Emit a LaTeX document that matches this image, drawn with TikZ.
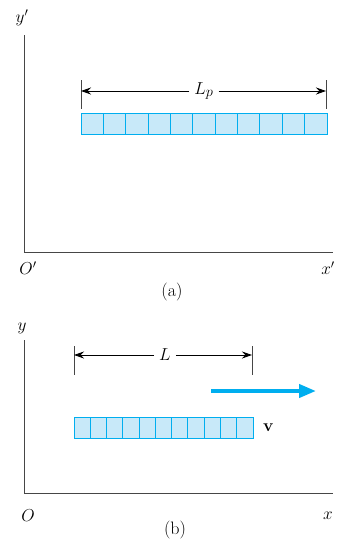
\documentclass[tikz,border=0pt]{standalone}
\usepackage{amsmath, amssymb}
\usetikzlibrary{arrows.meta, positioning, calc}
\definecolor{rodblue}{RGB}{0, 174, 239}
\definecolor{rodfill}{RGB}{200, 233, 249}
\definecolor{axisgray}{RGB}{70, 70, 70}
\tikzset{
  axisline/.style={draw=axisgray, line width=1pt},
  dimline/.style={draw=black, line width=0.9pt, -{Stealth[length=10pt, width=7pt]}},
  dimtick/.style={draw=axisgray, line width=0.9pt},
  rod/.style={draw=rodblue, fill=rodfill, line width=0.9pt, minimum height=21pt, inner sep=0pt, outer sep=0pt},
  lbl/.style={font=\fontsize{18}{20}\selectfont, inner sep=1pt},
  dimlbl/.style={font=\fontsize{19}{21}\selectfont, inner xsep=5pt, inner ysep=1pt},
}
\begin{document}
\begin{tikzpicture}[x=1pt, y=-1pt]
  \useasboundingbox (0,0) rectangle (345,546);

  % (a) rest frame S'
  \coordinate (ytopA) at (24,35);
  \coordinate (origA) at (24,252);
  \coordinate (xendA) at (333,252);
  \draw[axisline] (ytopA) -- (origA) -- (xendA);
  \node[lbl] (ylabA) at (22,18) {$y'$};
  \node[lbl] (olabA) at (28,268) {$O'$};
  \node[lbl] (xlabA) at (328,268) {$x'$};
  \node[lbl] (capA) at (172,292) {(a)};

  \node[rod, minimum width=246pt] (rodA) at (204,123.5) {};
  \foreach \i in {1,...,10}
    \draw[rodblue, line width=0.9pt] ($(rodA.north west)!\i/11!(rodA.north east)$) -- ($(rodA.south west)!\i/11!(rodA.south east)$);

  \coordinate (tickAl) at (81,80);
  \coordinate (tickAr) at (326,80);
  \draw[dimtick] (tickAl) -- (81,109);
  \draw[dimtick] (tickAr) -- (326,109);
  \node[dimlbl] (Lp) at (204,91) {$L_p$};
  \draw[dimline] (Lp.west) -- (Lp.west -| tickAl);
  \draw[dimline] (Lp.east) -- (Lp.east -| tickAr);

  % (b) frame S, rod moving with v
  \coordinate (ytopB) at (24,340);
  \coordinate (origB) at (24,493);
  \coordinate (xendB) at (333,493);
  \draw[axisline] (ytopB) -- (origB) -- (xendB);
  \node[lbl] (ylabB) at (22,328) {$y$};
  \node[lbl] (olabB) at (28,516) {$O$};
  \node[lbl] (xlabB) at (328,516) {$x$};
  \node[lbl] (capB) at (175,530) {(b)};

  \node[rod, minimum width=179pt] (rodB) at (163.5,427.5) {};
  \foreach \i in {1,...,10}
    \draw[rodblue, line width=0.9pt] ($(rodB.north west)!\i/11!(rodB.north east)$) -- ($(rodB.south west)!\i/11!(rodB.south east)$);
  \node[lbl, right=9pt of rodB] (vlab) {$\mathbf{v}$};

  \coordinate (tickBl) at (74,346);
  \coordinate (tickBr) at (252,346);
  \draw[dimtick] (tickBl) -- (74,375);
  \draw[dimtick] (tickBr) -- (252,375);
  \node[dimlbl] (L) at (165,355) {$L$};
  \draw[dimline] (L.west) -- (L.west -| tickBl);
  \draw[dimline] (L.east) -- (L.east -| tickBr);

  \coordinate (vstart) at (211,391);
  \coordinate (vend) at (316,391);
  \draw[rodblue, line width=4pt, -{Triangle[length=17pt, width=13pt]}] (vstart) -- (vend);
\end{tikzpicture}
\end{document}
